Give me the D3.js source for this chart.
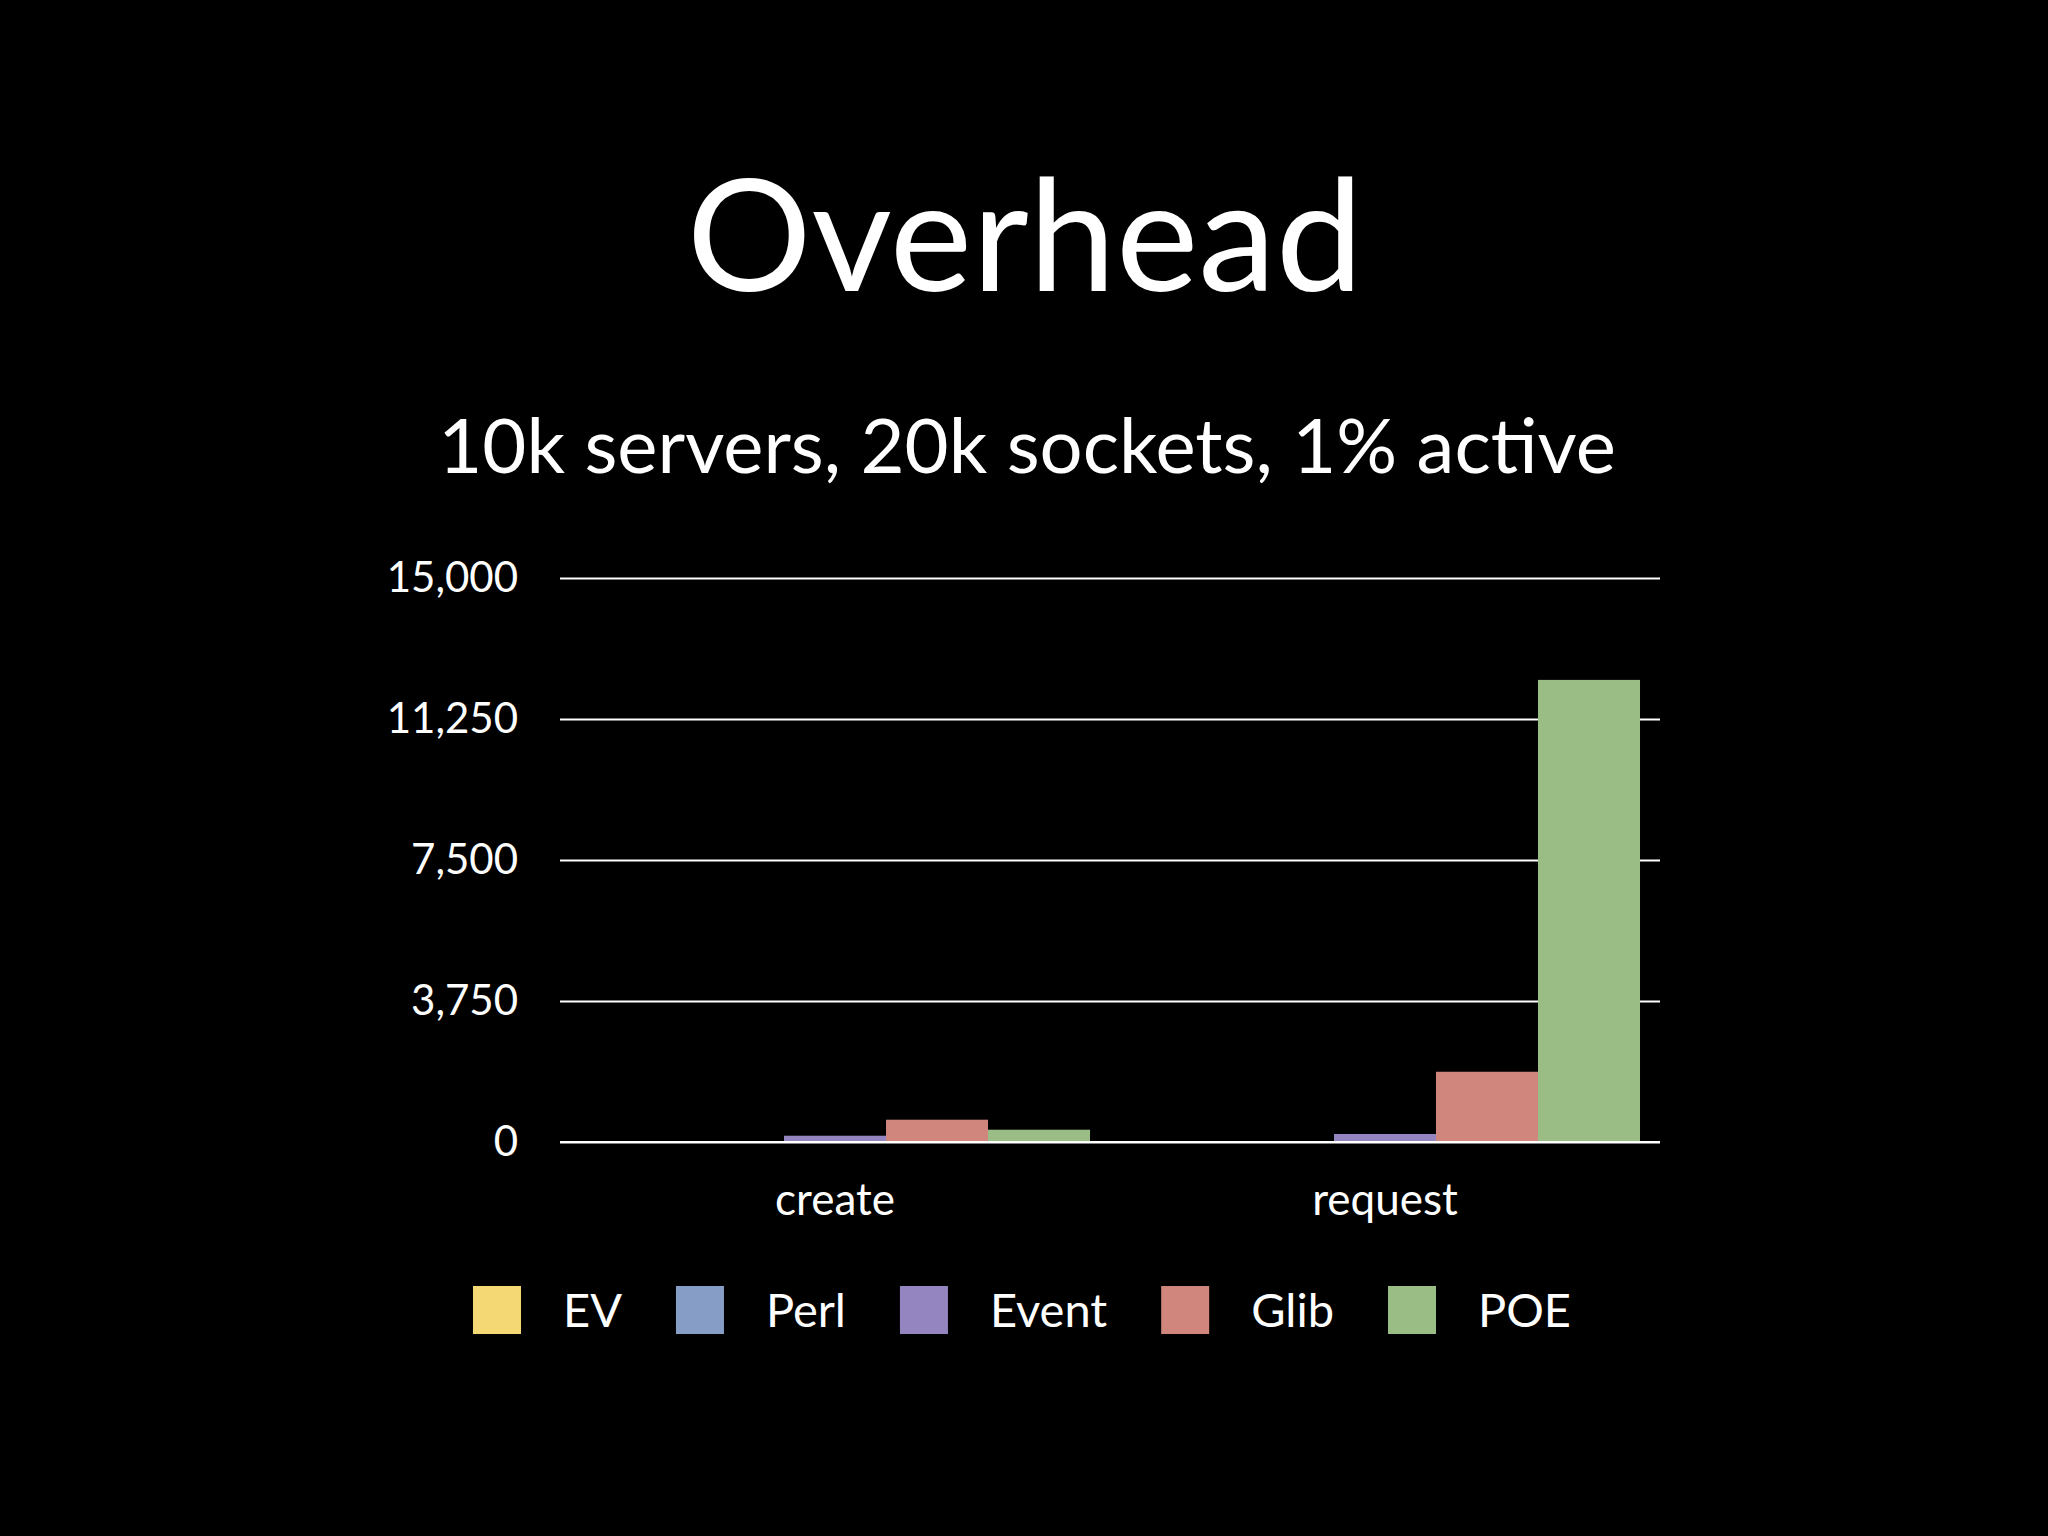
<!DOCTYPE html>
<html>
<head>
<meta charset="utf-8">
<script src="https://cdn.jsdelivr.net/npm/d3@7"></script>
<style>
  html, body { margin: 0; padding: 0; background: #000; }
  svg { display: block; }
  text { font-family: Lato, "Open Sans", sans-serif; fill: #fff; }
</style>
</head>
<body>
<div id="chart"></div>
<script>
// chart data
const categories = ["create", "request"];
const seriesNames = ["EV", "Perl", "Event", "Glib", "POE"];
const seriesColors = ["#f4d874", "#869dc5", "#9484c0", "#d0867c", "#99bd85"];
const evValues = [0, 0];
const perlValues = [0, 0];
const eventValues = [167, 213];
const glibValues = [593, 1868];
const poeValues = [327, 12290];
const yTicks = [0, 3750, 7500, 11250, 15000];

const titleText = "Overhead";
const subtitleText = "10k servers, 20k sockets, 1% active";

// rows for the grouped bars
const seriesValues = [evValues, perlValues, eventValues, glibValues, poeValues];
const data = categories.map((c, i) => ({
  category: c,
  values: seriesNames.map((s, j) => ({ series: s, value: seriesValues[j][i] }))
}));

// page and plot dimensions
const W = 2048, H = 1536;
const plot = { left: 560, right: 1660, top: 578, bottom: 1142 };

const svg = d3.select("#chart")
  .append("svg")
    .attr("width", W)
    .attr("height", H);

svg.append("rect")
  .attr("width", W)
  .attr("height", H)
  .attr("fill", "#000");

// titles
svg.append("text")
  .attr("x", 1025)
  .attr("y", 291)
  .attr("text-anchor", "middle")
  .style("font-size", "156px")
  .text(titleText);

svg.append("text")
  .attr("x", 1027)
  .attr("y", 473)
  .attr("text-anchor", "middle")
  .style("font-size", "76px")
  .text(subtitleText);

// scales
const x0 = d3.scaleBand()
  .domain(categories)
  .range([plot.left, plot.right])
  .padding(0);

const x1 = d3.scaleBand()
  .domain(seriesNames)
  .range([0, x0.bandwidth()])
  .paddingInner(0)
  .paddingOuter(0.196);

const y = d3.scaleLinear()
  .domain([0, 15000])
  .range([plot.bottom, plot.top]);

const color = d3.scaleOrdinal()
  .domain(seriesNames)
  .range(seriesColors);

// y axis with full-width grid lines
const yAxis = svg.append("g")
  .attr("transform", `translate(${plot.left},0)`)
  .call(d3.axisLeft(y)
    .tickValues(yTicks)
    .tickSize(-(plot.right - plot.left))
    .tickPadding(42)
    .tickFormat(d3.format(",")));

yAxis.select(".domain").remove();
yAxis.selectAll(".tick line")
  .attr("stroke", "#fff")
  .attr("stroke-width", 2);
yAxis.selectAll(".tick text")
  .attr("fill", "#fff")
  .style("font-family", "Lato, sans-serif")
  .style("font-size", "42px");

// bars
svg.append("g")
  .selectAll("g")
  .data(data)
  .join("g")
    .attr("transform", d => `translate(${x0(d.category)},0)`)
  .selectAll("rect")
  .data(d => d.values)
  .join("rect")
    .attr("x", d => x1(d.series))
    .attr("y", d => y(d.value))
    .attr("width", x1.bandwidth())
    .attr("height", d => y(0) - y(d.value))
    .attr("fill", d => color(d.series));

// baseline on top of the bars
svg.append("line")
  .attr("x1", plot.left)
  .attr("x2", plot.right)
  .attr("y1", y(0))
  .attr("y2", y(0))
  .attr("stroke", "#fff")
  .attr("stroke-width", 2);

// x axis labels
const xAxis = svg.append("g")
  .attr("transform", `translate(0,${plot.bottom})`)
  .call(d3.axisBottom(x0).tickSize(0).tickPadding(42));

xAxis.select(".domain").remove();
xAxis.selectAll(".tick text")
  .attr("fill", "#fff")
  .style("font-family", "Lato, sans-serif")
  .style("font-size", "44px");

// legend, laid out as a centred row
const swatch = 48, gapText = 42, gapItem = 54;
const legend = svg.append("g");
const items = legend.selectAll("g")
  .data(seriesNames)
  .join("g");

items.append("rect")
  .attr("width", swatch)
  .attr("height", swatch)
  .attr("y", 1286)
  .attr("fill", d => color(d));

items.append("text")
  .attr("x", swatch + gapText)
  .attr("y", 1327)
  .style("font-size", "47px")
  .text(d => d);

let offset = 0;
const widths = [];
items.each(function() {
  const tw = d3.select(this).select("text").node().getComputedTextLength();
  widths.push(offset);
  offset += swatch + gapText + tw + gapItem;
});
const total = offset - gapItem;
const startX = 1022 - total / 2;
items.attr("transform", (d, i) => `translate(${startX + widths[i]},0)`);
</script>
</body>
</html>
